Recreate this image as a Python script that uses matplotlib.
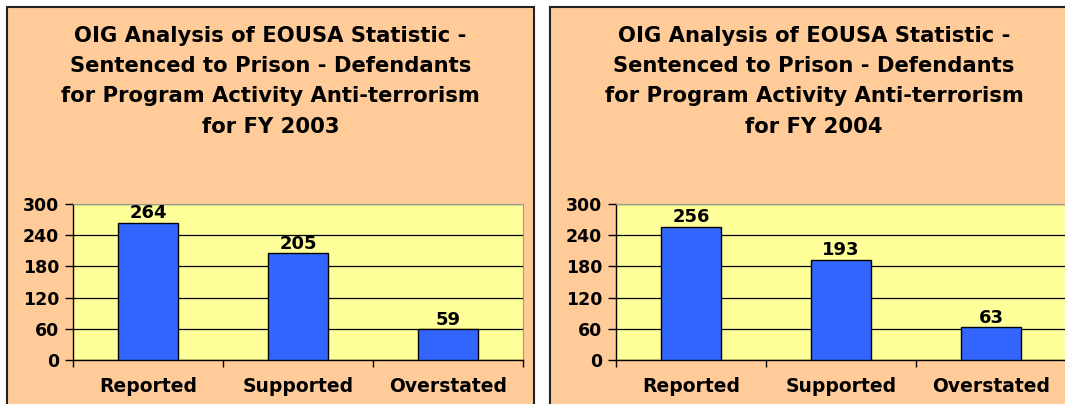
import matplotlib.pyplot as plt
from matplotlib.patches import Rectangle

categories = ['Reported', 'Supported', 'Overstated']
values_2003 = [264, 205, 59]
values_2004 = [256, 193, 63]
years = ['2003', '2004']
yticks = [0, 60, 120, 180, 240, 300]

W, H = 1065, 404
fig = plt.figure(figsize=(W / 100, H / 100), dpi=100)
fig.patch.set_facecolor('white')
plt.rcParams['font.family'] = ['DejaVu Sans']


def panel(px0, px1, year, values):
    # peach background box with dark border
    rect = Rectangle((px0 / W, -0.1), (px1 - px0) / W, 1.1 - 7 / H,
                     transform=fig.transFigure, facecolor='#FFCC99',
                     edgecolor='#222222', linewidth=1.5, zorder=0)
    fig.add_artist(rect)
    title = ('OIG Analysis of EOUSA Statistic -\n'
             'Sentenced to Prison - Defendants\n'
             'for Program Activity Anti-terrorism\n'
             'for FY ' + year)
    fig.text((px0 + px1) / 2 / W, 1 - 26 / H, title, ha='center', va='top',
             fontsize=15.2, fontweight='bold', linespacing=1.64, color='black')

    ax = fig.add_axes([(px0 + 66) / W, 1 - 360 / H, 450 / W, 156 / H])
    ax.set_facecolor('#FFFF99')
    x = range(len(categories))
    ax.bar(x, values, width=0.4, color='#3366FF', edgecolor='black',
           linewidth=1, zorder=3)
    for xi, v in zip(x, values):
        ax.text(xi, v + 1, str(v), ha='center', va='bottom', fontsize=13,
                fontweight='bold', zorder=4)
    ax.set_xlim(-0.5, 2.5)
    ax.set_ylim(0, 300)
    ax.set_yticks(yticks)
    ax.set_yticklabels([str(t) for t in yticks], fontsize=12.5, fontweight='bold')
    ax.set_xticks(list(x))
    ax.set_xticklabels(categories, fontsize=13.5, fontweight='bold')
    ax.tick_params(axis='x', length=0, pad=12)
    ax.tick_params(axis='y', length=6, width=1, pad=4, direction='out')
    ax.set_xticks([-0.5, 0.5, 1.5, 2.5], minor=True)
    ax.tick_params(axis='x', which='minor', length=5, width=1, direction='out')
    ax.grid(axis='y', color='black', linewidth=0.9, zorder=1)
    ax.set_axisbelow(True)
    for s in ['top', 'right']:
        ax.spines[s].set_color('#999999')
    for s in ['left', 'bottom']:
        ax.spines[s].set_color('black')
        ax.spines[s].set_linewidth(1)
    return ax


panel(7, 534, years[0], values_2003)
panel(550, 1078, years[1], values_2004)

fig.savefig('out.png', dpi=100)
